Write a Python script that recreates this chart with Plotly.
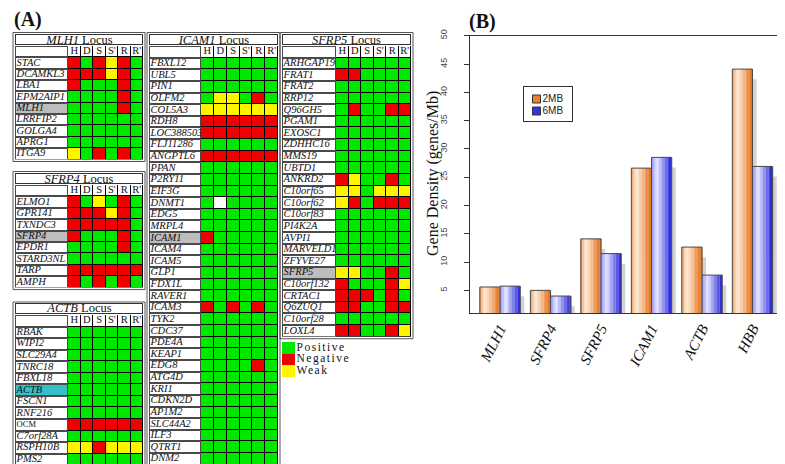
import plotly.graph_objects as go

W, H = 785, 464
SERIF = "Times New Roman, Liberation Serif, Tinos, Times, serif"
SANS = "Arial, Liberation Sans, Arimo, Helvetica, sans-serif"

# ---------------- data: panel A (expression calls) ----------------
assay_cols = ["H", "D", "S", "S'", "R", "R'"]
# G = positive, R = negative, Y = weak, W = no call

mlh1_genes = ["STAC", "DCAMKL3", "LBA1", "EPM2AIP1", "MLH1", "LRRFIP2", "GOLGA4", "APRG1", "ITGA9"]
mlh1_calls = ["RGRYRG", "RRRYRG", "RGGGRG", "GGGGRG", "GGGGRG", "GGGGGG", "GGGGGG", "GGGGGG", "YGRGRG"]

sfrp4_genes = ["ELMO1", "GPR141", "TXNDC3", "SFRP4", "EPDR1", "STARD3NL", "TARP", "AMPH"]
sfrp4_calls = ["RGYGRG", "RRRYRG", "RRRRRG", "RGGGRG", "GGGGRG", "GGGGGG", "RRRRRR", "RGRGRG"]

actb_genes = ["RBAK", "WIPI2", "SLC29A4", "TNRC18", "FBXL18", "ACTB", "FSCN1", "RNF216",
              "OCM", "C7orf28A", "RSPH10B", "PMS2"]
actb_calls = ["GGGGGG", "GGGGGG", "GGGGGG", "GGGGGG", "GGGGGG", "GGGGGG", "GGGGGG", "GGGGGG",
              "RRRRRR", "GGGGGG", "YYRYYY", "GGGGGG"]

icam1_genes = ["FBXL12", "UBL5", "PIN1", "OLFM2", "COL5A3", "RDH8", "LOC388503", "FLJ11286",
               "ANGPTL6", "PPAN", "P2RY11", "EIF3G", "DNMT1", "EDG5", "MRPL4", "ICAM1", "ICAM4",
               "ICAM5", "GLP1", "FDX1L", "RAVER1", "ICAM3", "TYK2", "CDC37", "PDE4A", "KEAP1",
               "EDG8", "ATG4D", "KRI1", "CDKN2D", "AP1M2", "SLC44A2", "ILF3", "QTRT1", "DNM2"]
icam1_calls = ["GGGGGG", "GGGGGG", "GGGGGG", "GYYGRG", "YYYYYY", "RRRRRR", "RRRRRR", "GGGGGG",
               "RRRRRR", "GGGGGG", "GGGGGG", "GGGGGG", "GWGGGG", "GGGGGG", "GGGGGG", "RGGGGG",
               "GGGGGG", "GGGGGG", "GGGGGG", "GGGGGG", "GGGGGG", "RGRGRG", "GGGGGG", "GGGGGG",
               "GGGGGG", "GGGGGG", "GGGGRG", "GGGGGG", "GGGGGG", "GGGGGG", "GGGGGG", "GGGGGG",
               "GGGGGG", "GGGGGG", "GGGGGG"]

sfrp5_genes = ["ARHGAP19", "FRAT1", "FRAT2", "RRP12", "Q96GH5", "PGAM1", "EXOSC1", "ZDHHC16",
               "MMS19", "UBTD1", "ANKRD2", "C10orf65", "C10orf62", "C10orf83", "PI4K2A", "AVPI1",
               "MARVELD1", "ZFYVE27", "SFRP5", "C10orf132", "CRTAC1", "Q6ZUQ1", "C10orf28", "LOXL4"]
sfrp5_calls = ["GGGGGG", "RRGGGG", "GGGGGG", "GGGGGG", "GRGGRR", "GGGGGG", "GGGGGG", "GGGGGG",
               "GGGGGG", "GGGGGG", "RYGGRG", "YYGYYY", "YRGRRR", "GGGGGG", "GGGGGG", "GGGGGG",
               "GGGGGG", "GGGGGG", "YYGGRG", "RGGGRY", "RRRGRG", "RRGGRR", "GGGGGG", "RRGGRY"]

legend_calls = ["G", "R", "Y"]
legend_labels = ["Positive", "Negative", "Weak"]

# ---------------- data: panel B (gene density) ----------------
density_loci = ["MLH1", "SFRP4", "SFRP5", "ICAM1", "ACTB", "HBB"]
density_series = ["2MB", "6MB"]
density_2mb = [5.6, 5.0, 14.1, 26.6, 12.65, 44.1]
density_6mb = [5.75, 4.0, 11.5, 28.5, 7.7, 26.9]
density_ticks = [5, 10, 15, 20, 25, 30, 35, 40, 45, 50]

# ---------------- styling ----------------
call_code = {"W": 0, "G": 1, "R": 2, "Y": 3}
palette = ["#FFFFFF", "#00E800", "#F00000", "#FFF400", "#BDBDBD", "#35BFC8"]
cscale = []
for i, c in enumerate(palette):
    cscale.append([i / len(palette), c])
    cscale.append([(i + 1) / len(palette), c])

tables = [
    dict(locus="MLH1", genes=mlh1_genes, calls=mlh1_calls, hl=4, x0=7, xn=60, x1=135, ytop=26, yhead=38, rowh=11.35),
    dict(locus="SFRP4", genes=sfrp4_genes, calls=sfrp4_calls, hl=4, x0=7, xn=60, x1=135, ytop=165, yhead=177, rowh=11.4),
    dict(locus="ACTB", genes=actb_genes, calls=actb_calls, hl=5, x0=7, xn=60, x1=135, ytop=295.5, yhead=307, rowh=11.55),
    dict(locus="ICAM1", genes=icam1_genes, calls=icam1_calls, hl=4, x0=141, xn=193, x1=270, ytop=26, yhead=38, rowh=11.63),
    dict(locus="SFRP5", genes=sfrp5_genes, calls=sfrp5_calls, hl=4, x0=274, xn=328, x1=403, ytop=26, yhead=38, rowh=11.63),
]

fig = go.Figure()
axes = {}
shapes = []
annotations = []


def refs(k):
    return ("x" if k == 1 else f"x{k}", "y" if k == 1 else f"y{k}")


def keys(k):
    return ("xaxis" if k == 1 else f"xaxis{k}", "yaxis" if k == 1 else f"yaxis{k}")


def hidden(**kw):
    d = dict(visible=False, fixedrange=True, showgrid=False, zeroline=False)
    d.update(kw)
    return d


k = 0
for t in tables:
    n = len(t["genes"])
    ybot = t["yhead"] + (n + 1) * t["rowh"]
    ydom = [1 - ybot / H, 1 - t["yhead"] / H]
    rows = list(range(n + 1))

    # name column
    k += 1
    xr, yr = refs(k)
    xk, yk = keys(k)
    axes[xk] = hidden(domain=[t["x0"] / W, t["xn"] / W], range=[-0.5, 0.5], anchor=yr)
    axes[yk] = hidden(domain=ydom, range=[n + 0.5, -0.5], anchor=xr)
    shapes.append(dict(type="rect", xref=f"{xr} domain", yref=f"{yr} domain", x0=0, x1=1, y0=0, y1=1,
                       fillcolor="#4a4a4a", line_width=0, layer="below"))
    zn = [[0]] + [[t["hl"] if g == t["locus"] else 0] for g in t["genes"]]
    fig.add_trace(go.Heatmap(z=zn, x=[0], y=rows, xgap=2, ygap=2, colorscale=cscale, zmin=-0.5, zmax=5.5,
                             showscale=False, hoverinfo="skip", xaxis=xr, yaxis=yr))
    fig.add_trace(go.Scatter(
        x=[-0.47] * n, y=rows[1:], mode="text",
        text=[g if g == "OCM" else f"<i>{g}</i>" for g in t["genes"]],
        textposition="middle right",
        textfont=dict(family=SERIF, size=[8.5 if g == "OCM" else 10.5 for g in t["genes"]], color="#111"),
        hoverinfo="skip", showlegend=False, xaxis=xr, yaxis=yr))

    # call columns
    k += 1
    xr, yr = refs(k)
    xk, yk = keys(k)
    axes[xk] = hidden(domain=[t["xn"] / W, t["x1"] / W], range=[-0.5, 5.5], anchor=yr)
    axes[yk] = hidden(domain=ydom, range=[n + 0.5, -0.5], anchor=xr)
    shapes.append(dict(type="rect", xref=f"{xr} domain", yref=f"{yr} domain", x0=0, x1=1, y0=0, y1=1,
                       fillcolor="#000000", line_width=0, layer="below"))
    zd = [[0] * len(assay_cols)] + [[call_code[c] for c in row] for row in t["calls"]]
    fig.add_trace(go.Heatmap(z=zd, x=list(range(len(assay_cols))), y=rows, xgap=1, ygap=1,
                             colorscale=cscale, zmin=-0.5, zmax=5.5, showscale=False, hoverinfo="skip",
                             xaxis=xr, yaxis=yr))
    fig.add_trace(go.Scatter(
        x=list(range(len(assay_cols))), y=[0] * len(assay_cols), mode="text", text=assay_cols,
        textposition="middle center", textfont=dict(family=SERIF, size=10.5, color="#111"),
        hoverinfo="skip", showlegend=False, xaxis=xr, yaxis=yr))

    # title row and frame
    annotations.append(dict(
        x=(t["x0"] + t["x1"]) / 2 / W, y=1 - (t["ytop"] + t["yhead"] - 1) / 2 / H, xref="paper", yref="paper",
        text=f"<i>{t['locus']}</i> Locus", showarrow=False, xanchor="center", yanchor="middle",
        font=dict(family=SERIF, size=12.5, color="#111"), bgcolor="white", bordercolor="#333",
        borderwidth=1, borderpad=0, width=t["x1"] - t["x0"] - 2, height=t["yhead"] - t["ytop"] - 3))
    shapes.append(dict(type="rect", xref="paper", yref="paper",
                       x0=(t["x0"] - 2) / W, x1=(t["x1"] + 2) / W,
                       y0=1 - (ybot + 2) / H, y1=1 - (t["ytop"] - 1.5) / H,
                       line=dict(color="#555", width=1), fillcolor="rgba(0,0,0,0)", layer="above"))

# panel A legend (cell column 13 px wide, text to its right)
k += 1
xr, yr = refs(k)
xk, yk = keys(k)
axes[xk] = hidden(domain=[274 / W, 345 / W], range=[-0.5, 71 / 13 - 0.5], anchor=yr)
axes[yk] = hidden(domain=[1 - 369 / H, 1 - 334 / H], range=[2.5, -0.5], anchor=xr)
fig.add_trace(go.Heatmap(z=[[call_code[c]] for c in legend_calls], x=[0], y=[0, 1, 2], colorscale=cscale,
                         zmin=-0.5, zmax=5.5, showscale=False, hoverinfo="skip", xaxis=xr, yaxis=yr))
fig.add_trace(go.Scatter(x=[0.62] * 3, y=[0, 1, 2], mode="text",
                         text=[f'<span style="letter-spacing:1.5px">{s}</span>' for s in legend_labels],
                         textposition="middle right", textfont=dict(family=SERIF, size=11.5, color="#111"),
                         cliponaxis=False, hoverinfo="skip", showlegend=False, xaxis=xr, yaxis=yr))

# ---------------- panel B ----------------
k += 1
bx, by = refs(k)
bxk, byk = keys(k)
xpos = list(range(len(density_loci)))


def lerp(stops, f):
    for (p0, c0), (p1, c1) in zip(stops[:-1], stops[1:]):
        if p0 <= f <= p1:
            u = (f - p0) / (p1 - p0)
            return "rgb(%d,%d,%d)" % tuple(round(a + (b - a) * u) for a, b in zip(c0, c1))
    return "rgb(%d,%d,%d)" % stops[-1][1]


orange = [(0.0, (238, 150, 82)), (0.28, (255, 236, 218)), (1.0, (226, 112, 24))]
blue = [(0.0, (140, 140, 245)), (0.3, (232, 232, 255)), (1.0, (34, 34, 216))]
bw = 0.4
nslice = 14
shadow_drop = 1.8

# drop shadows
for vals, off in ((density_2mb, 0.0), (density_6mb, bw)):
    fig.add_trace(go.Bar(x=xpos, y=[v - shadow_drop for v in vals], offset=off, width=0.08,
                         marker=dict(color="#d2d2d2", line_width=0), showlegend=False,
                         hoverinfo="skip", xaxis=bx, yaxis=by))

for vals, start, stops in ((density_2mb, -bw, orange), (density_6mb, 0.0, blue)):
    for i in range(nslice):
        f = (i + 0.5) / nslice
        fig.add_trace(go.Bar(x=xpos, y=vals, offset=start + i * bw / nslice, width=bw / nslice * 1.02,
                             marker=dict(color=lerp(stops, f), line_width=0), showlegend=False,
                             hoverinfo="skip", xaxis=bx, yaxis=by))
    fig.add_trace(go.Bar(x=xpos, y=vals, offset=start, width=bw,
                         marker=dict(color="rgba(0,0,0,0)", line=dict(color="#4a4a4a", width=1)),
                         showlegend=False, hoverinfo="skip", xaxis=bx, yaxis=by))

axes[bxk] = dict(domain=[462.3 / W, 774.3 / W], range=[-0.59, 5.59], anchor=by,
                 tickvals=xpos, ticktext=density_loci, tickangle=-63, ticks="",
                 tickfont=dict(family=SERIF, size=15, style="italic", color="#111"),
                 showline=True, mirror=True, linecolor="#333", linewidth=1,
                 showgrid=False, zeroline=False, fixedrange=True, automargin=False)
axes[byk] = dict(domain=[1 - 305 / H, 1 - 27.7 / H], range=[1, 50], anchor=bx,
                 tickvals=density_ticks, tickangle=-90, ticks="outside", ticklen=5, tickcolor="#333",
                 tickfont=dict(family=SANS, size=9, color="#444"), ticklabelstandoff=14,
                 showline=True, mirror=True, linecolor="#333", linewidth=1,
                 showgrid=False, zeroline=False, fixedrange=True, automargin=False)

# panel B legend box: pixel-unit axis
k += 1
lx, ly = refs(k)
lxk, lyk = keys(k)
axes[lxk] = dict(domain=[516 / W, 564 / W], range=[0, 48], anchor=ly, showticklabels=False, ticks="",
                 showline=True, mirror=True, linecolor="#333", linewidth=1, showgrid=False,
                 zeroline=False, fixedrange=True)
axes[lyk] = dict(domain=[1 - 113 / H, 1 - 79 / H], range=[34, 0], anchor=lx, showticklabels=False, ticks="",
                 showline=True, mirror=True, linecolor="#333", linewidth=1, showgrid=False,
                 zeroline=False, fixedrange=True)
fig.add_trace(go.Scatter(x=[12.5, 12.5], y=[12, 24], mode="markers+text", text=density_series,
                         textposition="middle right",
                         textfont=dict(family=SANS, size=10, color="#222"),
                         marker=dict(symbol="square", size=8, color=["#E8822A", "#3434E0"],
                                     line=dict(color="#333", width=1)),
                         hoverinfo="skip", showlegend=False, xaxis=lx, yaxis=ly))

annotations.append(dict(x=425 / W, y=1 - 166 / H, xref="paper", yref="paper", text="Gene Density (genes/Mb)",
                        textangle=-90, showarrow=False, xanchor="center", yanchor="middle",
                        font=dict(family=SERIF, size=16, color="#111")))
annotations.append(dict(x=20 / W, y=1 - 12 / H, xref="paper", yref="paper", text="<b>(A)</b>",
                        showarrow=False, xanchor="center", yanchor="middle",
                        font=dict(family=SERIF, size=20, color="#111")))
annotations.append(dict(x=474 / W, y=1 - 14 / H, xref="paper", yref="paper", text="<b>(B)</b>",
                        showarrow=False, xanchor="center", yanchor="middle",
                        font=dict(family=SERIF, size=20, color="#111")))

fig.update_layout(
    width=W, height=H, margin=dict(l=0, r=0, t=0, b=0),
    paper_bgcolor="white", plot_bgcolor="white",
    barmode="overlay", shapes=shapes, annotations=annotations,
    showlegend=False,
    **axes,
)

fig.write_html("out.html")
